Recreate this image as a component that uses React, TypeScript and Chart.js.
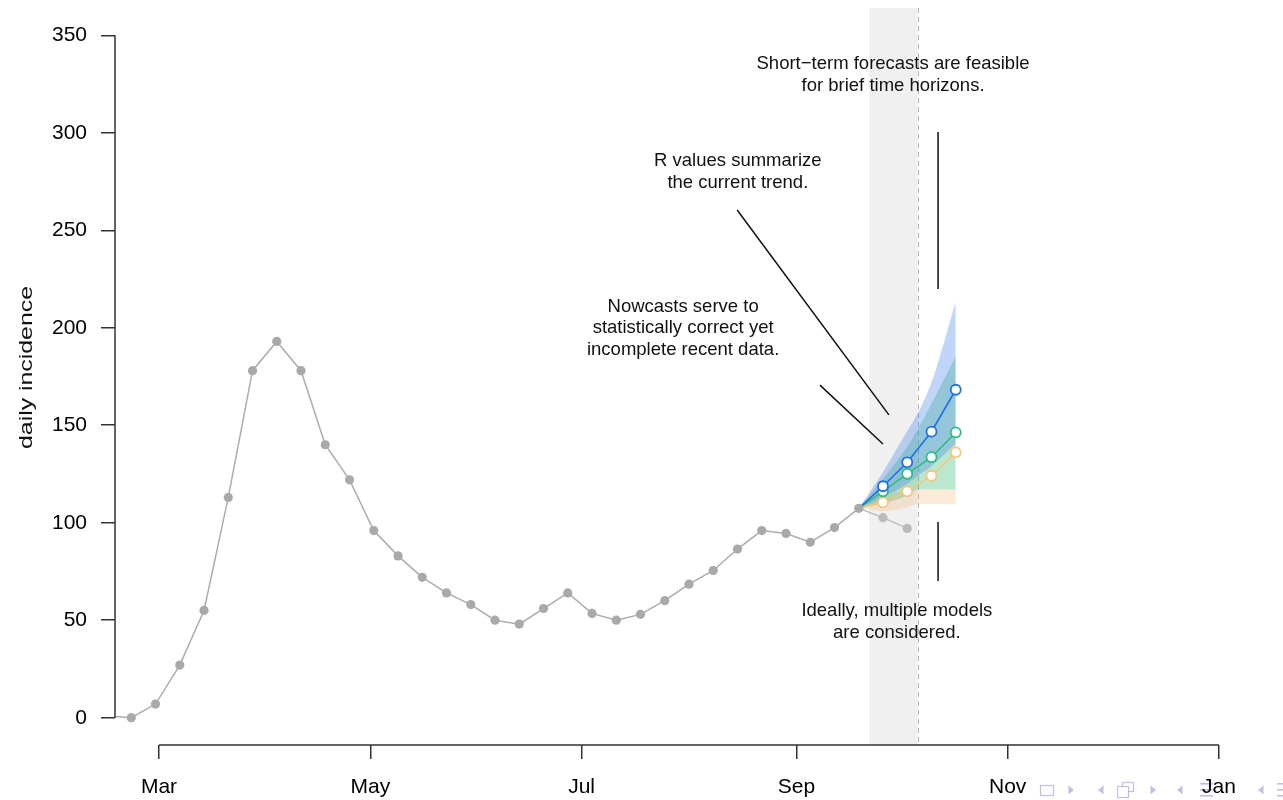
import React, { useEffect, useRef } from "react";
import { Chart, registerables } from "chart.js";

Chart.register(...registerables);

// ---- data (x = days since 1 March) ----
const obsDays = [-15, -8, -1, 6, 13, 20, 27, 34, 41, 48, 55, 62, 69, 76, 83, 90, 97, 104, 111, 118, 125, 132, 139, 146, 153, 160, 167, 174, 181, 188, 195, 202];
const obsCases = [1, 0, 7, 27, 55, 113, 178, 193, 178, 140, 122, 96, 83, 72, 64, 58, 50, 48, 56, 64, 53.5, 50, 53, 60, 68.5, 75.5, 86.5, 96, 94.5, 90, 97.5, 107.4];

const nowDays = [202, 209, 216];
const nowCases = [107.4, 102.6, 97.1];

const fcDays = [202, 209, 216, 223, 230];
const fcBlue = [107.4, 118.7, 131.0, 146.7, 168.2];
const fcGreen = [107.4, 116.1, 125.1, 133.6, 146.3];
const fcOrange = [107.4, 110.4, 116.1, 124.1, 136.1];

const bandDays = [202, 209, 216, 219, 223, 230];
const blueLo = [107.4, 113, 120, 124, 129, 140.6];
const blueHi = [107.4, 126, 147, 156, 172, 213.4];
const greenLo = [107.4, 110, 114, 117, 117, 117];
const greenHi = [107.4, 122.5, 139, 148, 161, 185.2];
const orangeLo = [107.4, 106, 108, 109.6, 109.6, 109.6];
const orangeHi = [107.4, 113, 116.5, 117, 117, 117];

const nowcastWindow = [205, 219];

const xTickDays = [0, 61, 122, 184, 245, 306];
const xTickLabels = ["Mar", "May", "Jul", "Sep", "Nov", "Jan"];
const yTicks = [0, 50, 100, 150, 200, 250, 300, 350];
const yTitle = "daily incidence";

const noteShort = ["Short\u2212term forecasts are feasible", "for brief time horizons."];
const noteR = ["R values summarize", "the current trend."];
const noteNow = ["Nowcasts serve to", "statistically correct yet", "incomplete recent data."];
const noteModels = ["Ideally, multiple models", "are considered."];

// annotation anchors in data units: [day, value]
const notes = [
  { lines: noteShort, at: [211.9, 335.3] },
  { lines: noteR, at: [167.1, 285.5] },
  { lines: noteNow, at: [151.3, 210.9] },
  { lines: noteModels, at: [213.0, 54.7] },
];
const segments = [
  [[166.9, 260.4], [210.7, 155.3]],
  [[190.8, 170.6], [209.0, 140.4]],
  [[224.9, 300.4], [224.9, 219.9]],
  [[224.9, 100.4], [224.9, 70.1]],
];

const FONT = '"Liberation Sans", Arial, Helvetica, sans-serif';

const pts = (xs: number[], ys: number[]) => xs.map((x, i) => ({ x, y: ys[i] }));

const BLUE = "#1f6fe5";
const GREEN = "#2dbd7c";
const ORANGE = "#f7c47c";

const overlayPlugin = {
  id: "overlay",
  beforeDraw(chart: any) {
    const ctx = chart.ctx;
    ctx.save();
    const c = "rgba(140,140,205,0.55)";
    ctx.strokeStyle = c;
    ctx.fillStyle = c;
    ctx.lineWidth = 1.2;
    const cy = 790;
    const tri = (x: number, dir: number) => {
      ctx.beginPath();
      ctx.moveTo(x - 2.5 * dir, cy - 4.5);
      ctx.lineTo(x - 2.5 * dir, cy + 4.5);
      ctx.lineTo(x + 3 * dir, cy);
      ctx.closePath();
      ctx.fill();
    };
    ctx.strokeRect(1040.5, 785.5, 13, 10);
    tri(1071, 1);
    tri(1101, -1);
    ctx.strokeRect(1122.5, 782.5, 11, 9);
    ctx.fillStyle = "#fff";
    ctx.fillRect(1117.5, 786.5, 11, 11);
    ctx.strokeRect(1117.5, 786.5, 11, 11);
    ctx.fillStyle = c;
    tri(1153, 1);
    tri(1180, -1);
    for (const yy of [783, 789, 795]) ctx.fillRect(1200, yy, 13, 1.6);
    tri(1261, -1);
    for (const yy of [783, 789, 795]) ctx.fillRect(1277, yy, 8, 1.6);
    ctx.restore();
  },
  beforeDatasetsDraw(chart: any) {
    const { ctx, chartArea, scales } = chart;
    const x0 = scales.x.getPixelForValue(nowcastWindow[0]);
    const x1 = scales.x.getPixelForValue(nowcastWindow[1]);
    ctx.save();
    ctx.fillStyle = "#f0f0f0";
    ctx.fillRect(x0, chartArea.top, x1 - x0, chartArea.bottom - chartArea.top);
    ctx.strokeStyle = "#b4b4b4";
    ctx.lineWidth = 1;
    ctx.setLineDash([5, 4]);
    ctx.beginPath();
    ctx.moveTo(Math.round(x1) + 0.5, chartArea.top);
    ctx.lineTo(Math.round(x1) + 0.5, chartArea.bottom);
    ctx.stroke();
    ctx.restore();
  },
  afterDraw(chart: any) {
    const { ctx, chartArea, scales } = chart;
    const xs = scales.x;
    const ys = scales.y;
    ctx.save();
    // axes lines (R style)
    ctx.strokeStyle = "#333";
    ctx.lineWidth = 1.5;
    ctx.beginPath();
    ctx.moveTo(chartArea.left, ys.getPixelForValue(yTicks[0]));
    ctx.lineTo(chartArea.left, ys.getPixelForValue(yTicks[yTicks.length - 1]));
    ctx.moveTo(xs.getPixelForValue(xTickDays[0]), chartArea.bottom);
    ctx.lineTo(xs.getPixelForValue(xTickDays[xTickDays.length - 1]), chartArea.bottom);
    ctx.stroke();

    // annotation segments
    ctx.strokeStyle = "#111";
    ctx.lineWidth = 1.5;
    for (const s of segments) {
      ctx.beginPath();
      ctx.moveTo(xs.getPixelForValue(s[0][0]), ys.getPixelForValue(s[0][1]));
      ctx.lineTo(xs.getPixelForValue(s[1][0]), ys.getPixelForValue(s[1][1]));
      ctx.stroke();
    }
    // annotation text
    ctx.fillStyle = "#111";
    ctx.font = `18.5px ${FONT}`;
    ctx.textAlign = "center";
    ctx.textBaseline = "middle";
    for (const n of notes) {
      const cx = xs.getPixelForValue(n.at[0]);
      const cy = ys.getPixelForValue(n.at[1]);
      n.lines.forEach((t, i) => ctx.fillText(t, cx, cy + i * 21.5));
    }
    // y title
    ctx.translate(27, (chartArea.top + chartArea.bottom) / 2 - 9);
    ctx.rotate(-Math.PI / 2);
    ctx.scale(1.38, 1);
    ctx.font = `18px ${FONT}`;
    ctx.fillStyle = "#111";
    ctx.fillText(yTitle, 0, 0);
    ctx.restore();
  },
};

export default function App() {
  const ref = useRef<HTMLCanvasElement | null>(null);
  useEffect(() => {
    if (!ref.current) return;
    Chart.defaults.font.family = FONT;
    const band = (lo: number[], hi: number[], color: string, order: number) => [
      {
        data: pts(bandDays, lo),
        borderWidth: 0,
        pointRadius: 0,
        fill: false,
        cubicInterpolationMode: "monotone",
        order,
      },
      {
        data: pts(bandDays, hi),
        borderWidth: 0,
        pointRadius: 0,
        fill: "-1",
        backgroundColor: color,
        cubicInterpolationMode: "monotone",
        order,
      },
    ];
    const fcLine = (ys: number[], color: string, order: number) => ({
      data: pts(fcDays, ys),
      borderColor: color,
      borderWidth: 1.6,
      pointRadius: [0, 5, 5, 5, 5],
      pointBackgroundColor: "#ffffff",
      pointBorderColor: color,
      pointBorderWidth: 1.8,
      fill: false,
      order,
    });
    const chart = new Chart(ref.current, {
      type: "line",
      data: {
        datasets: [
          {
            data: pts(obsDays, obsCases),
            borderColor: "#acacac",
            borderWidth: 1.5,
            pointRadius: 4.6,
            pointBackgroundColor: "#a9a9a9",
            pointBorderWidth: 0,
            fill: false,
            order: 0,
          },
          {
            data: pts(nowDays, nowCases),
            borderColor: "#bdbdbd",
            borderWidth: 1.5,
            pointRadius: [0, 4.6, 4.6],
            pointBackgroundColor: "#bbbbbb",
            pointBorderWidth: 0,
            fill: false,
            order: 1,
          },
          fcLine(fcBlue, BLUE, 2),
          fcLine(fcGreen, GREEN, 3),
          fcLine(fcOrange, ORANGE, 4),
          ...band(blueLo, blueHi, "rgba(74,134,232,0.35)", 8),
          ...band(greenLo, greenHi, "rgba(46,184,110,0.33)", 9),
          ...band(orangeLo, orangeHi, "rgba(250,190,130,0.3)", 10),
        ] as any,
      },
      options: {
        animation: false,
        responsive: false,
        maintainAspectRatio: false,
        layout: { padding: { top: 8, right: 43, left: 0, bottom: 0 } },
        plugins: { legend: { display: false }, tooltip: { enabled: false } },
        scales: {
          x: {
            type: "linear",
            min: -12.7,
            max: 312.06,
            afterBuildTicks: (s: any) => {
              s.ticks = xTickDays.map((v) => ({ value: v }));
            },
            afterFit: (s: any) => {
              s.height = 55;
              s.paddingLeft = 0;
              s.paddingRight = 0;
            },
            ticks: {
              callback: (_v: any, i: number) => xTickLabels[i],
              font: { size: 21, family: FONT, lineHeight: 1.2 },
              color: "#000",
              padding: 16,
              maxRotation: 0,
              autoSkip: false,
            },
            grid: { drawOnChartArea: false, drawTicks: true, tickLength: 14, color: "#333", lineWidth: 1.5 },
            border: { display: false },
          },
          y: {
            type: "linear",
            min: -14,
            max: 364,
            afterBuildTicks: (s: any) => {
              s.ticks = yTicks.map((v) => ({ value: v }));
            },
            afterFit: (s: any) => {
              s.width = 115;
              s.paddingTop = 0;
              s.paddingBottom = 0;
            },
            ticks: {
              font: { size: 21, family: FONT, lineHeight: 1.2 },
              color: "#000",
              padding: 14,
              autoSkip: false,
            },
            grid: { drawOnChartArea: false, drawTicks: true, tickLength: 14, color: "#333", lineWidth: 1.5 },
            border: { display: false },
          },
        },
      } as any,
      plugins: [overlayPlugin],
    });
    return () => chart.destroy();
  }, []);
  return (
    <div style={{ position: "absolute", left: 0, top: 0, width: 1283, height: 800, background: "#fff" }}>
      <canvas ref={ref} width={1283} height={800} />
    </div>
  );
}
